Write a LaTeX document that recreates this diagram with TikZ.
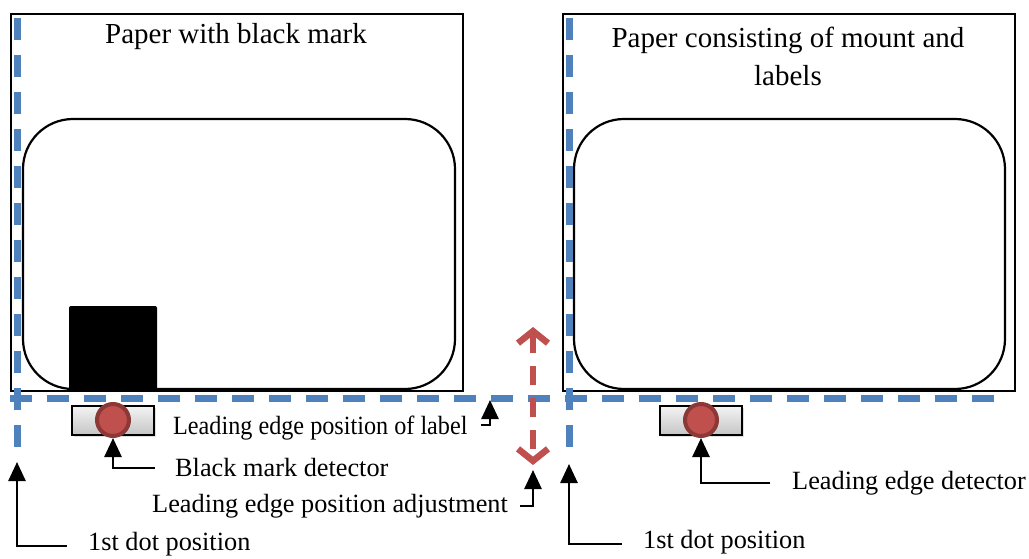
\documentclass[tikz,border=0pt]{standalone}
\usepackage{fontspec}
\setmainfont{Liberation Serif}
\usetikzlibrary{arrows.meta,shadows}
\definecolor{dblue}{HTML}{4F81BD}
\definecolor{dred}{HTML}{C0504D}
\definecolor{dredd}{HTML}{8C3836}
\begin{document}
\begin{tikzpicture}[x=1pt,y=-1pt,
  paper/.style={draw,line width=2.2pt,inner sep=0pt,minimum width=452pt,minimum height=377pt,anchor=north west},
  inner/.style={draw,line width=2.2pt,rounded corners=50pt},
  titletext/.style={font=\fontsize{29}{38}\selectfont,align=center,inner sep=0pt},
  lbl/.style={font=\fontsize{26.3}{30}\selectfont,anchor=west,inner sep=0pt},
  det/.style={draw,line width=2pt,minimum width=82pt,minimum height=29pt,inner sep=0pt,
    top color=gray!8,bottom color=gray!45,drop shadow={shadow xshift=1.5pt,shadow yshift=-2.5pt,opacity=0.25}},
  sensor/.style={circle,fill=dred,draw=dredd,line width=4pt,minimum size=32pt,inner sep=0pt},
  bluedash/.style={dblue,line width=7pt,dash pattern=on 22pt off 15pt},
  conn/.style={draw,line width=2.6pt,-{Triangle[length=19pt,width=17pt]}},
  reddash/.style={dred,line width=6.5pt,dash pattern=on 19pt off 13pt,
    {Straight Barb[length=12pt,width=30pt,line width=6.5pt]}-{Straight Barb[length=12pt,width=30pt,line width=6.5pt]}}
]
\useasboundingbox (0,0) rectangle (1029,559);
% papers
\node[paper] (p1) at (10,13) {};
\node[paper] (p2) at (562,13) {};
\draw[inner] (23,119) rectangle (455,389);
\draw[inner] (574,119) rectangle (1005,389);
\fill[rounded corners=2pt] (69,306) rectangle (157,390);
% titles
\node[titletext] (t1) at (236,37) {Paper with black mark};
\node[titletext] (t2) at (788,56) {Paper consisting of mount and\\labels};
% blue dashed lines
\draw[bluedash] (10,398) -- (1005,398);
\draw[bluedash] (17,18) -- (17,455);
\draw[bluedash] (569,18) -- (569,455);
% red adjustment arrow
\draw[reddash] (533,327) -- (533,465);
% detectors
\node[det] (d1) at (113,420) {};
\node[sensor] (s1) at (113,420) {};
\node[det] (d2) at (701,420) {};
\node[sensor] (s2) at (701,420) {};
% labels
\node[lbl] (lep) at (173,428) {\scalebox{0.92}[1]{Leading edge position of label}};
\node[lbl] (bmd) at (175,468) {Black mark detector};
\node[lbl] (lea) at (152,506) {Leading edge position adjustment};
\node[lbl] (fd1) at (88,544) {1st dot position};
\node[lbl] (fd2) at (643,542) {1st dot position};
\node[lbl] (led) at (792,483) {Leading edge detector};
% connector targets
\coordinate (lepTip) at (490,400);
\coordinate (leaTip) at (533,470);
\coordinate (fd1Tip) at (17,462);
\coordinate (fd2Tip) at (569,464);
% connectors
\draw[conn] ([xshift=13pt,yshift=3pt]lep.east) -| (lepTip);
\draw[conn] ([xshift=-20pt]bmd.west) -| (s1.south);
\draw[conn] ([xshift=12pt]lea.east) -| (leaTip);
\draw[conn] ([xshift=-21pt,yshift=-2pt]fd1.west) -| (fd1Tip);
\draw[conn] ([xshift=-21pt,yshift=-2pt]fd2.west) -| (fd2Tip);
\draw[conn] ([xshift=-22pt]led.west) -| (s2.south);
\end{tikzpicture}
\end{document}
